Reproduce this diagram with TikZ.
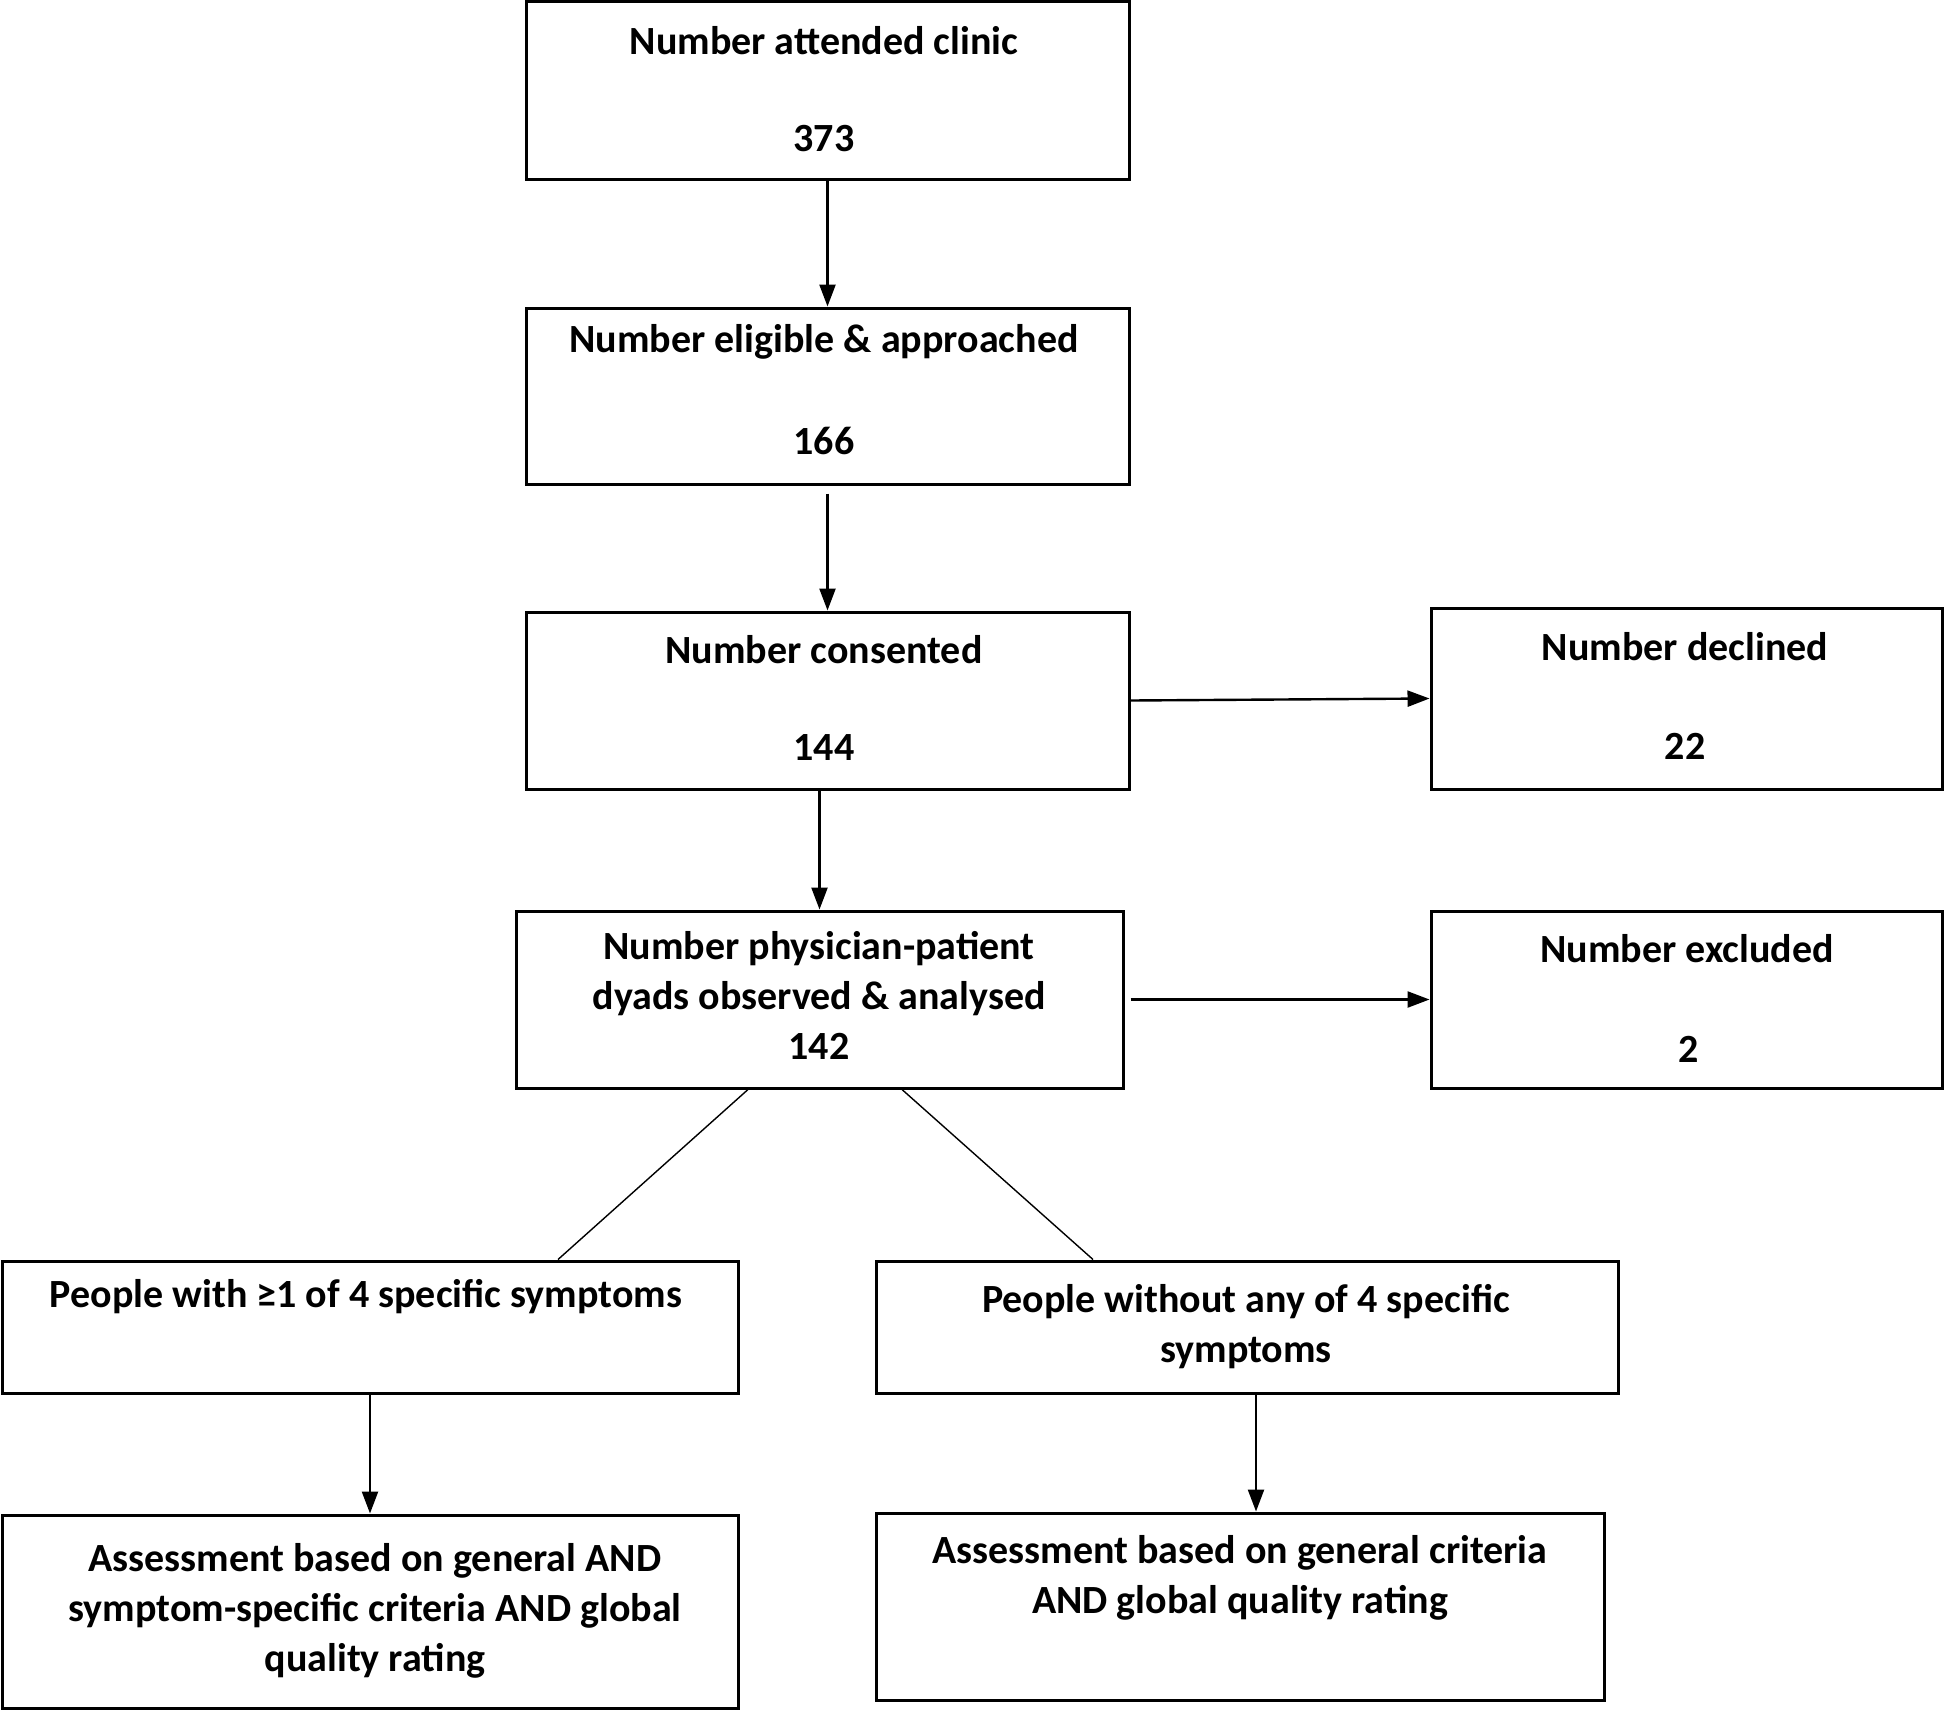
\documentclass[tikz,border=0pt]{standalone}
\usepackage{fontspec}
\setmainfont{Carlito}
\usetikzlibrary{arrows.meta,calc}
\tikzset{
  box/.style={draw=black,line width=1.5pt,rectangle,inner sep=0pt},
  lbl/.style={font=\fontsize{20}{25}\selectfont\bfseries,align=center,inner sep=0pt,anchor=center},
  arr/.style={draw=black,line width=1.2pt,-{Triangle[length=11pt,width=8pt]}},
  diag/.style={draw=black,line width=0.7pt}
}
\begin{document}
\begin{tikzpicture}[x=0.5pt,y=-0.5pt]
\useasboundingbox (0,0) rectangle (1946,1712);
% boxes
\node[box,minimum width=301.5pt,minimum height=89pt] (b1) at (827.5,91) {};
\node[box,minimum width=301.5pt,minimum height=88pt] (b2) at (827.5,396) {};
\node[box,minimum width=301.5pt,minimum height=88.5pt] (b3) at (827.5,700.5) {};
\node[box,minimum width=255.5pt,minimum height=90.5pt] (dec) at (1686.5,698.5) {};
\node[box,minimum width=303.5pt,minimum height=88.5pt] (b4) at (819.5,999.5) {};
\node[box,minimum width=255.5pt,minimum height=88.5pt] (exc) at (1686.5,999.5) {};
\node[box,minimum width=368pt,minimum height=66pt] (b5) at (370,1327) {};
\node[box,minimum width=371pt,minimum height=66pt] (b6) at (1247,1327) {};
\node[box,minimum width=368pt,minimum height=96.5pt] (b7) at (370,1611.5) {};
\node[box,minimum width=364pt,minimum height=93.5pt] (b8) at (1240,1606.5) {};
% texts
\node[lbl] (t1a) at (824,41) {Number attended clinic};
\node[lbl] (t1b) at (824,139) {373};
\node[lbl] (t2a) at (824,342) {Number eligible \& approached};
\node[lbl] (t2b) at (824,441) {166};
\node[lbl] (t3a) at (824,650) {Number consented};
\node[lbl] (t3b) at (824,748) {144};
\node[lbl] (tda) at (1685,647) {Number declined};
\node[lbl] (tdb) at (1685,746) {22};
\node[lbl] (t4) at (819,995) {Number physician-patient\\dyads observed \& analysed\\142};
\node[lbl] (tea) at (1687,949) {Number excluded};
\node[lbl] (teb) at (1689,1049) {2};
\node[lbl] (t5) at (366,1297) {People with ≥1 of 4 specific symptoms};
\node[lbl] (t6) at (1246,1327) {People without any of 4 specific\\symptoms};
\node[lbl] (t7) at (375,1611) {Assessment based on general AND\\symptom-specific criteria AND global\\quality rating};
\node[lbl] (t8) at (1240,1578) {Assessment based on general criteria\\AND global quality rating};
% connectors
\draw[arr] (b1.south) -- (b2.north);
\draw[arr] ([yshift=-4pt]b2.south) -- (b3.north);
\draw[arr] (b4.north |- b3.south) -- (b4.north);
\draw[arr] (b3.east) -- (dec.west);
\draw[arr] ([xshift=3pt]b4.east) -- (exc.west);
\draw[diag] ([xshift=-35.75pt]b4.south) -- ([xshift=94pt]b5.north);
\draw[diag] ([xshift=41.25pt]b4.south) -- ([xshift=-77pt]b6.north);
\draw[arr] (b5.south) -- (b7.north);
\draw[arr] ([xshift=4.5pt]b6.south) -- ([xshift=4.5pt]b6.south |- b8.north);
\end{tikzpicture}
\end{document}
